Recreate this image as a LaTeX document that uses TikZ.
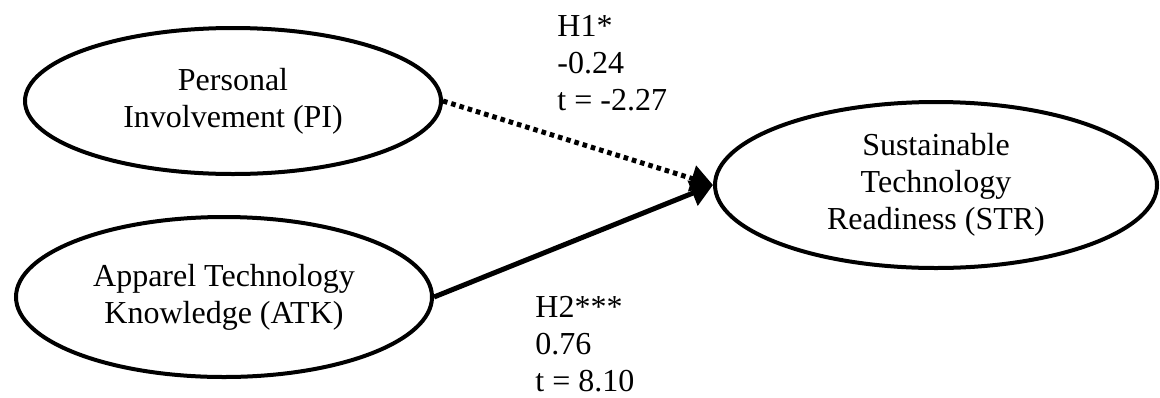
\documentclass[tikz,border=0pt]{standalone}
\usepackage{fontspec}
\setmainfont{Liberation Serif}
\usetikzlibrary{shapes.geometric,arrows.meta}
\begin{document}
\begin{tikzpicture}[x=0.5pt,y=-0.5pt,
  construct/.style={ellipse,draw,line width=2pt,inner sep=0pt,align=center,
    font=\fontsize{16pt}{18.5pt}\selectfont},
  pathlabel/.style={inner sep=0pt,align=left,anchor=north west,
    font=\fontsize{16pt}{18.5pt}\selectfont},
  effect/.style={line width=2.5pt,-{Triangle[length=11pt,width=13pt]}},
  weakeffect/.style={line width=2.5pt,dash pattern=on 2.3pt off 2pt,-{Triangle[length=11pt,width=13pt]}}]
\useasboundingbox (0,0) rectangle (1160,397);
\node[construct,minimum width=208pt,minimum height=73pt] (pi) at (233,101) {Personal\\Involvement (PI)};
\node[construct,minimum width=208pt,minimum height=80pt] (atk) at (224,297) {Apparel Technology\\Knowledge (ATK)};
\node[construct,minimum width=221pt,minimum height=83pt] (str) at (936,185) {Sustainable\\Technology\\Readiness (STR)};
\draw[weakeffect] (pi.east) -- (str.west);
\draw[effect] (atk.east) -- (str.west);
\node[pathlabel] (h1) at (557,15) {H1*\\-0.24\\t = -2.27};
\node[pathlabel] (h2) at (535,296) {H2***\\0.76\\t = 8.10};
\end{tikzpicture}
\end{document}
